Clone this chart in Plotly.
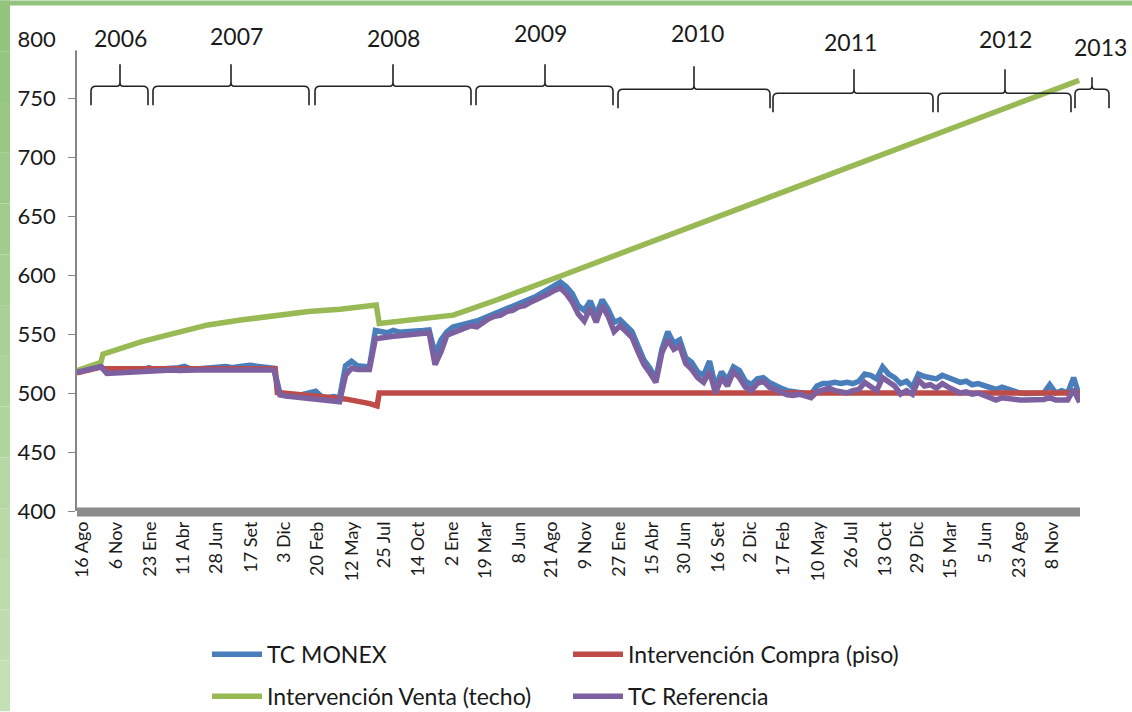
'''
    Tipo de cambio MONEX, tipo de cambio de referencia y banda de intervención (piso/techo), 2006-2013.
'''
import pandas as pd
import plotly.graph_objects as go

# --- datos ---------------------------------------------------------------
fechas_tc = pd.date_range('2006-08-05', periods=169, freq='14D')

tc_referencia = [
    517.5, 518.8, 520, 521.2, 522.4,
    516.5, 516.8, 517, 517.3, 517, 517.5, 518, 518.5, 519, 519.2,
    519.3, 519.5, 519, 519.5, 519.4, 519.5, 519.5, 519.6, 519.5, 519.6,
    519.7, 519.8, 519.7, 519.8, 519.8, 519.8, 519.6, 519.5, 519.5,
    498.5, 497.5, 497, 496, 495.5, 495, 494.5, 494, 493, 493, 492.5,
    515, 521, 520, 520.5, 520,
    546, 547, 547.5, 548, 548.5, 549, 549.5, 550, 550.5, 551,
    524, 535, 549, 551, 553, 555, 557, 556, 560, 563,
    565, 566, 569, 570, 573, 574, 577, 579, 582, 584,
    587, 589, 584, 577, 567, 561, 572, 560, 574, 565,
    552, 557, 552, 547, 535, 524, 517, 509, 534, 545,
    537, 540, 525, 520, 513, 509, 518, 500, 513, 506,
    518, 513, 505, 502, 508, 510, 505, 503, 501, 498.5,
    498, 499, 497.5, 496, 501, 502, 504, 502, 501, 500,
    502, 503, 509, 506, 502, 513, 509, 506, 499, 502,
    499, 511, 506, 507, 504, 508, 505, 503, 500, 501,
    499, 500, 498, 496, 494, 496, 495, 494, 494, 494,
    494, 494, 494.5, 496, 494, 494, 494, 503, 492,
]

tc_monex = [
    518, 519.2, 520.4, 521.6, 522.8,
    517.2, 517.5, 518, 518.5, 520, 518.5, 519, 521.5, 520, 520.2,
    520.2, 520.8, 521.5, 522.5, 520.5, 520.3, 520.5, 520.6, 521, 522,
    522.5, 521.5, 522.3, 523, 523.5, 522.8, 522, 521.5, 521,
    499.5, 499, 498.5, 497.5, 499, 500.5, 501.5, 497, 496, 497, 496,
    523, 527, 523, 522.5, 522,
    553, 552, 551, 553, 551.5, 552, 552, 552.5, 553, 553.5,
    533, 545, 552, 556, 557, 559, 560, 561, 563, 565,
    567, 569, 572, 573, 575, 578, 580, 582, 585, 588,
    591, 594, 590, 584, 574, 570, 578, 566, 579, 571,
    560, 562, 557, 552, 540, 528, 521, 512, 537, 552,
    542, 545, 530, 526, 518, 515, 527, 505, 518, 511,
    522, 519, 510, 507, 512, 513, 509, 506, 504, 502,
    501, 501, 500, 499, 506, 508, 508, 509, 508, 509,
    508, 510, 516, 515, 512, 522, 516, 513, 508, 510,
    505, 516, 514, 513, 512, 515, 513, 510, 509, 510,
    507, 508, 506, 504, 503, 505, 503, 502, 500, 499.5,
    499.5, 499.5, 500, 507, 500, 502, 500, 513, 497,
]

fechas_compra = ['2006-08-05', '2006-09-30', '2006-10-05', '2007-11-13', '2007-11-18',
                 '2008-01-11', '2008-04-25', '2008-06-22', '2008-07-09', '2008-07-14',
                 '2013-01-12']
compra_piso = [517, 522, 520.5, 520.5, 500.5, 498.5, 495, 491, 489, 500, 500]

fechas_venta = ['2006-08-05', '2006-09-30', '2006-10-05', '2007-01-04', '2007-03-23',
                '2007-06-08', '2007-08-28', '2007-11-13', '2008-01-30', '2008-04-13',
                '2008-07-07', '2008-07-14', '2008-08-26', '2008-11-11', '2009-01-04',
                '2009-04-17', '2009-07-04', '2009-09-19', '2013-01-11']
venta_techo = [519, 526, 533, 543.6, 550.7, 557.7, 562, 566, 569, 571,
               574.6, 559, 560.5, 563.4, 566, 579, 590, 600, 765]

fechas_ticks = ['2006-08-16', '2006-11-06', '2007-01-23', '2007-04-11', '2007-06-28',
                '2007-09-17', '2007-12-03', '2008-02-20', '2008-05-12', '2008-07-25',
                '2008-10-14', '2009-01-02', '2009-03-19', '2009-06-08', '2009-08-21',
                '2009-11-09', '2010-01-27', '2010-04-15', '2010-06-30', '2010-09-16',
                '2010-12-02', '2011-02-17', '2011-05-10', '2011-07-26', '2011-10-13',
                '2011-12-29', '2012-03-15', '2012-06-05', '2012-08-23', '2012-11-08']
etiquetas_ticks = ['16 Ago', '6 Nov', '23 Ene', '11 Abr', '28 Jun', '17 Set', '3 Dic',
                   '20 Feb', '12 May', '25 Jul', '14 Oct', '2 Ene', '19 Mar', '8 Jun',
                   '21 Ago', '9 Nov', '27 Ene', '15 Abr', '30 Jun', '16 Set', '2 Dic',
                   '17 Feb', '10 May', '26 Jul', '13 Oct', '29 Dic', '15 Mar', '5 Jun',
                   '23 Ago', '8 Nov']

anios = ['2006', '2007', '2008', '2009', '2010', '2011', '2012', '2013']

# --- geometria (pixeles de la imagen) -------------------------------------
W, H = 1132, 712
L, R, T, B = 77, 1080, 38.6, 511.4

# llaves de los años: x inicio, x fin, x centro, y linea, y punta, y texto, x texto
LLAVES = [
    (91, 148, 120, 86, 64, 38, 120),
    (153, 309, 231, 86, 64, 36, 236),
    (315, 471, 393, 86, 64, 38, 393),
    (476, 613, 545, 86, 64, 33, 540),
    (618, 770, 694, 89, 66, 33, 697),
    (773, 933, 854, 93, 69, 42, 850),
    (938, 1071, 1005, 93, 69, 39, 1005),
    (1075, 1109, 1092, 89, 77, 47, 1100),
]

FONT = 'Lato'
TEXT = '#1a1a1a'
LW = 5.5


def px(x):
    return (x - L) / (R - L)


def py(y):
    return (B - y) / (B - T)


def pt(x, y):
    return f'{px(x):.5f},{py(y):.5f}'


def brace_path(x0, x1, xm, yl, yt):
    ye = yl + 19
    r = 5
    return (f'M {pt(x0, ye)} L {pt(x0, yl + r)} Q {pt(x0, yl)} {pt(x0 + r, yl)} '
            f'L {pt(xm - 3, yl)} Q {pt(xm, yl)} {pt(xm, yl - 4)} L {pt(xm, yt)} '
            f'M {pt(xm, yl - 4)} Q {pt(xm, yl)} {pt(xm + 3, yl)} '
            f'L {pt(x1 - r, yl)} Q {pt(x1, yl)} {pt(x1, yl + r)} L {pt(x1, ye)}')


fig = go.Figure()

fig.add_trace(go.Scatter(x=fechas_tc, y=tc_monex, name='TC MONEX', mode='lines',
                         line=dict(color='#4A7EBB', width=LW), legend='legend'))
fig.add_trace(go.Scatter(x=fechas_compra, y=compra_piso, name='Intervención Compra (piso)',
                         mode='lines', line=dict(color='#BE4B48', width=LW), legend='legend'))
fig.add_trace(go.Scatter(x=fechas_venta, y=venta_techo, name='Intervención Venta (techo)',
                         mode='lines', line=dict(color='#98B954', width=LW), legend='legend2'))
fig.add_trace(go.Scatter(x=fechas_tc, y=tc_referencia, name='TC Referencia', mode='lines',
                         line=dict(color='#7D60A0', width=LW), legend='legend2'))

shapes = []
# banda gris del eje x
shapes.append(dict(type='rect', xref='paper', yref='paper', x0=0, x1=1,
                   y0=py(517), y1=py(508), fillcolor='#8c8c8c', line=dict(width=0),
                   layer='above'))
# tapa el tramo superior del eje y
shapes.append(dict(type='rect', xref='paper', yref='paper', x0=px(64), x1=px(80),
                   y0=py(50), y1=py(30), fillcolor='white', line=dict(width=0), layer='above'))
# borde verde de la diapositiva
n = 14
for i in range(n):
    f = i / (n - 1)
    c = (int(146 + f * 51), int(196 + f * 28), int(125 + f * 55))
    shapes.append(dict(type='rect', xref='paper', yref='paper', x0=px(0), x1=px(10),
                       y0=py(H * (i + 1) / n), y1=py(H * i / n),
                       fillcolor=f'rgb{c}', line=dict(width=0), layer='above'))
shapes.append(dict(type='rect', xref='paper', yref='paper', x0=px(0), x1=px(W),
                   y0=py(5), y1=py(0), fillcolor='#93c47d', line=dict(width=0), layer='above'))

annotations = []
for anio, (x0, x1, xm, yl, yt, ytxt, xtxt) in zip(anios, LLAVES):
    shapes.append(dict(type='path', xref='paper', yref='paper',
                       path=brace_path(x0, x1, xm, yl, yt),
                       line=dict(color='#222222', width=1.6), layer='above'))
    annotations.append(dict(text=anio, xref='paper', yref='paper', x=px(xtxt), y=py(ytxt),
                            showarrow=False, xanchor='center', yanchor='middle',
                            font=dict(family=FONT, size=23, color=TEXT)))

legend_style = dict(
    orientation='h', xanchor='left', yanchor='middle',
    entrywidth=296, entrywidthmode='pixels', itemwidth=50,
    font=dict(family=FONT, size=23, color=TEXT), bgcolor='rgba(0,0,0,0)',
)

fig.update_layout(
    width=W, height=H,
    margin=dict(l=L, r=W - R, t=T, b=H - B, autoexpand=False),
    paper_bgcolor='white', plot_bgcolor='white',
    font=dict(family=FONT, color=TEXT),
    xaxis=dict(
        type='date', range=['2006-08-05', '2013-01-13'],
        tickvals=fechas_ticks, ticktext=etiquetas_ticks, tickangle=-90,
        tickfont=dict(family=FONT, size=18, color=TEXT),
        showgrid=False, zeroline=False, showline=False, ticks='',
        ticklabelstandoff=6,
    ),
    yaxis=dict(
        range=[400, 800], dtick=50, showgrid=False, zeroline=False,
        showline=True, linecolor='#868686', linewidth=1.5,
        ticks='outside', ticklen=7, tickcolor='#868686', tickwidth=1.2,
        tickfont=dict(family=FONT, size=22, color=TEXT), ticklabelstandoff=8,
    ),
    legend=dict(x=px(207), y=py(655), **legend_style),
    legend2=dict(x=px(207), y=py(697), **legend_style),
    shapes=shapes,
    annotations=annotations,
)

# sin margen del body para que la figura ocupe la ventana completa
fig.write_html('out.html', config={'displayModeBar': False},
               post_script="document.body.style.margin='0';"
                           "document.body.style.overflow='hidden';")
